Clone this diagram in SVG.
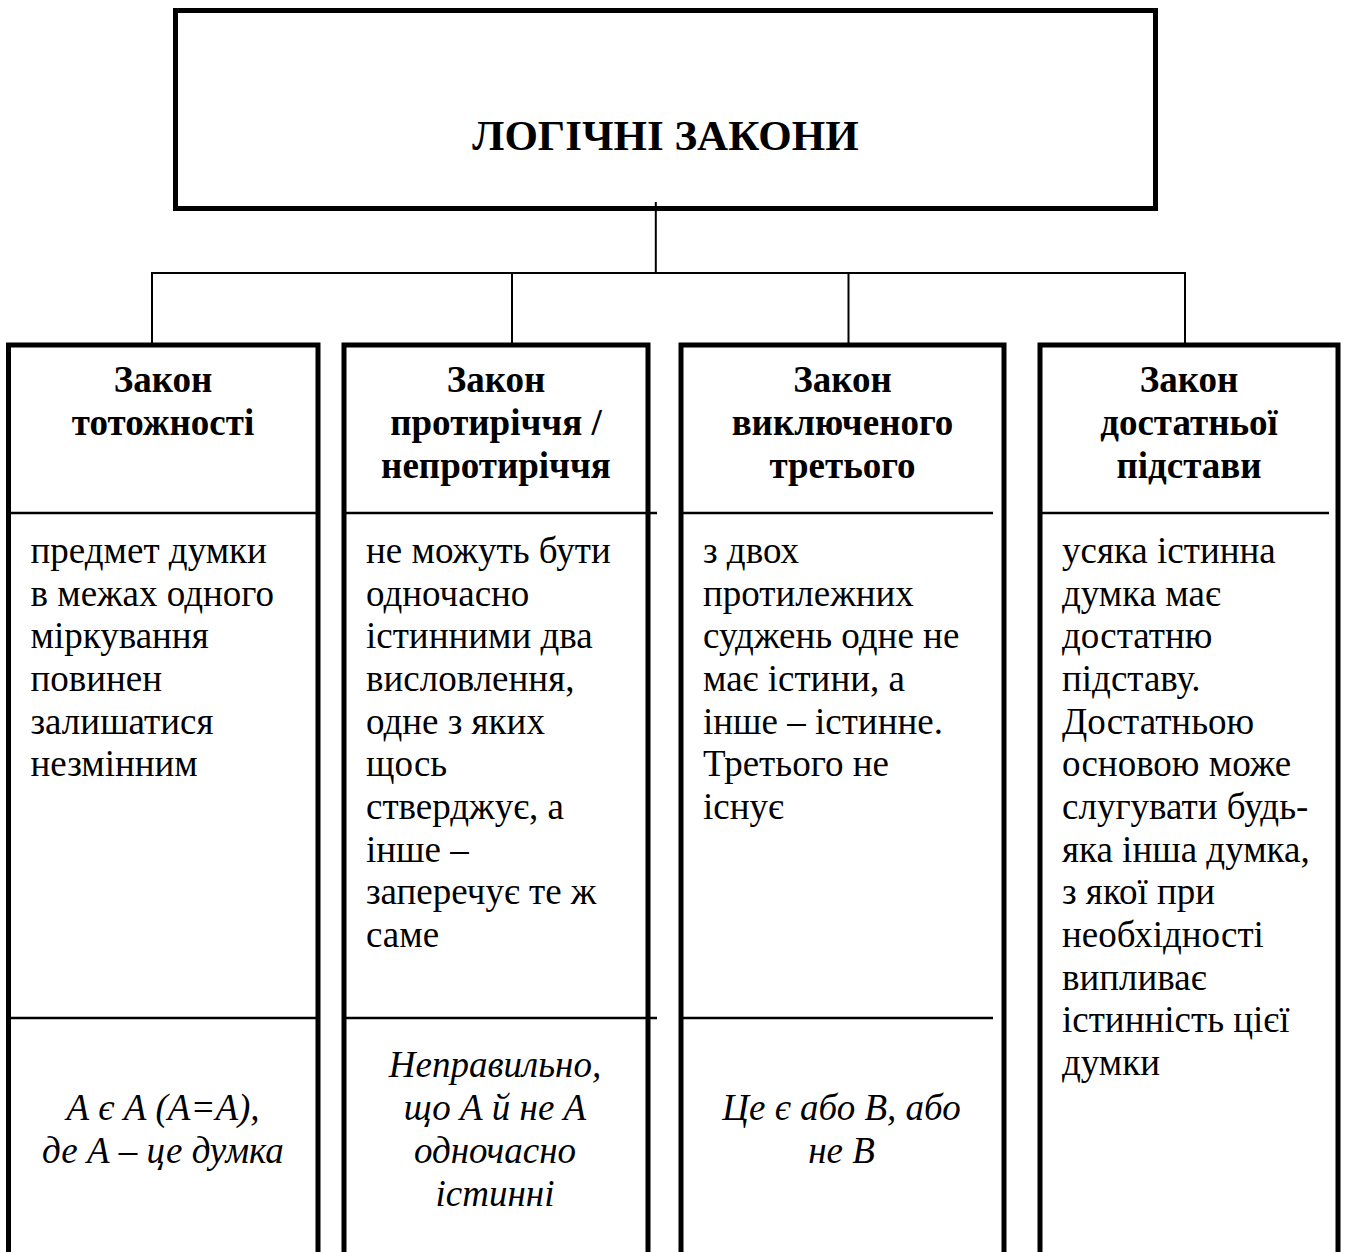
<svg xmlns="http://www.w3.org/2000/svg" width="1346" height="1252" viewBox="0 0 1346 1252">
<style>
.frame{fill:none;stroke:#000;stroke-width:5}
.div{stroke:#000;stroke-width:2.5}
.conn{fill:none;stroke:#000;stroke-width:2}
.title{font-family:"Liberation Serif","Times New Roman",serif;font-weight:bold;font-size:43px;text-anchor:middle}
.head{font-family:"Liberation Serif","Times New Roman",serif;font-weight:bold;font-size:37px;text-anchor:middle}
.body{font-family:"Liberation Serif","Times New Roman",serif;font-size:37px}
.form{font-family:"Liberation Serif","Times New Roman",serif;font-style:italic;font-size:37px;text-anchor:middle}
</style>
<rect x="0" y="0" width="1346" height="1252" fill="#fff"/>
<g id="connectors">
<path class="conn" d="M655.8,202 V273"/>
<path class="conn" d="M152,273 H1185"/>
<path class="conn" d="M152,272 V343 M512,272 V343 M848.5,272 V343 M1185,272 V343"/>
</g>
<g id="root">
<rect class="frame" x="175.5" y="10.5" width="980" height="198"/>
<text class="title" x="665.5" y="150">ЛОГІЧНІ ЗАКОНИ</text>
</g>
<g id="law-identity">
<path class="frame" d="M8.5,1260 V345 H318 V1260"/>
<line class="div" x1="8.5" y1="513" x2="318" y2="513"/>
<line class="div" x1="8.5" y1="1018" x2="318" y2="1018"/>
<text class="head" x="163" y="392">Закон</text>
<text class="head" x="163" y="435">тотожності</text>
<text class="body" x="30.5" y="563">предмет думки</text>
<text class="body" x="30.5" y="605.7">в межах одного</text>
<text class="body" x="30.5" y="648.3">міркування</text>
<text class="body" x="30.5" y="691">повинен</text>
<text class="body" x="30.5" y="733.7">залишатися</text>
<text class="body" x="30.5" y="776.3">незмінним</text>
<text class="form" x="163" y="1120">А є А (А=А),</text>
<text class="form" x="163" y="1163">де А – це думка</text>
</g>
<g id="law-contradiction">
<path class="frame" d="M344,1260 V345 H648 V1260"/>
<line class="div" x1="344" y1="513" x2="657" y2="513"/>
<line class="div" x1="344" y1="1018" x2="657" y2="1018"/>
<text class="head" x="496" y="392">Закон</text>
<text class="head" x="496" y="435">протиріччя /</text>
<text class="head" x="496" y="478">непротиріччя</text>
<text class="body" x="366" y="563">не можуть бути</text>
<text class="body" x="366" y="605.7">одночасно</text>
<text class="body" x="366" y="648.3">істинними два</text>
<text class="body" x="366" y="691">висловлення,</text>
<text class="body" x="366" y="733.7">одне з яких</text>
<text class="body" x="366" y="776.3">щось</text>
<text class="body" x="366" y="819">стверджує, а</text>
<text class="body" x="366" y="861.7">інше –</text>
<text class="body" x="366" y="904.3">заперечує те ж</text>
<text class="body" x="366" y="947">саме</text>
<text class="form" x="495" y="1077">Неправильно,</text>
<text class="form" x="495" y="1120">що А й не А</text>
<text class="form" x="495" y="1163">одночасно</text>
<text class="form" x="495" y="1206">істинні</text>
</g>
<g id="law-excluded-middle">
<path class="frame" d="M681,1260 V345 H1004 V1260"/>
<line class="div" x1="681" y1="513" x2="993" y2="513"/>
<line class="div" x1="681" y1="1018" x2="993" y2="1018"/>
<text class="head" x="842.5" y="392">Закон</text>
<text class="head" x="842.5" y="435">виключеного</text>
<text class="head" x="842.5" y="478">третього</text>
<text class="body" x="703" y="563">з двох</text>
<text class="body" x="703" y="605.7">протилежних</text>
<text class="body" x="703" y="648.3">суджень одне не</text>
<text class="body" x="703" y="691">має істини, а</text>
<text class="body" x="703" y="733.7">інше – істинне.</text>
<text class="body" x="703" y="776.3">Третього не</text>
<text class="body" x="703" y="819">існує</text>
<text class="form" x="841.5" y="1120">Це є або В, або</text>
<text class="form" x="841.5" y="1163">не В</text>
</g>
<g id="law-sufficient-reason">
<path class="frame" d="M1040,1260 V345 H1338 V1260"/>
<line class="div" x1="1040" y1="513" x2="1329" y2="513"/>
<text class="head" x="1189" y="392">Закон</text>
<text class="head" x="1189" y="435">достатньої</text>
<text class="head" x="1189" y="478">підстави</text>
<text class="body" x="1062" y="563">усяка істинна</text>
<text class="body" x="1062" y="605.7">думка має</text>
<text class="body" x="1062" y="648.3">достатню</text>
<text class="body" x="1062" y="691">підставу.</text>
<text class="body" x="1062" y="733.7">Достатньою</text>
<text class="body" x="1062" y="776.3">основою може</text>
<text class="body" x="1062" y="819">слугувати будь-</text>
<text class="body" x="1062" y="861.7">яка інша думка,</text>
<text class="body" x="1062" y="904.3">з якої при</text>
<text class="body" x="1062" y="947">необхідності</text>
<text class="body" x="1062" y="989.7">випливає</text>
<text class="body" x="1062" y="1032.3">істинність цієї</text>
<text class="body" x="1062" y="1075">думки</text>
</g>
</svg>
